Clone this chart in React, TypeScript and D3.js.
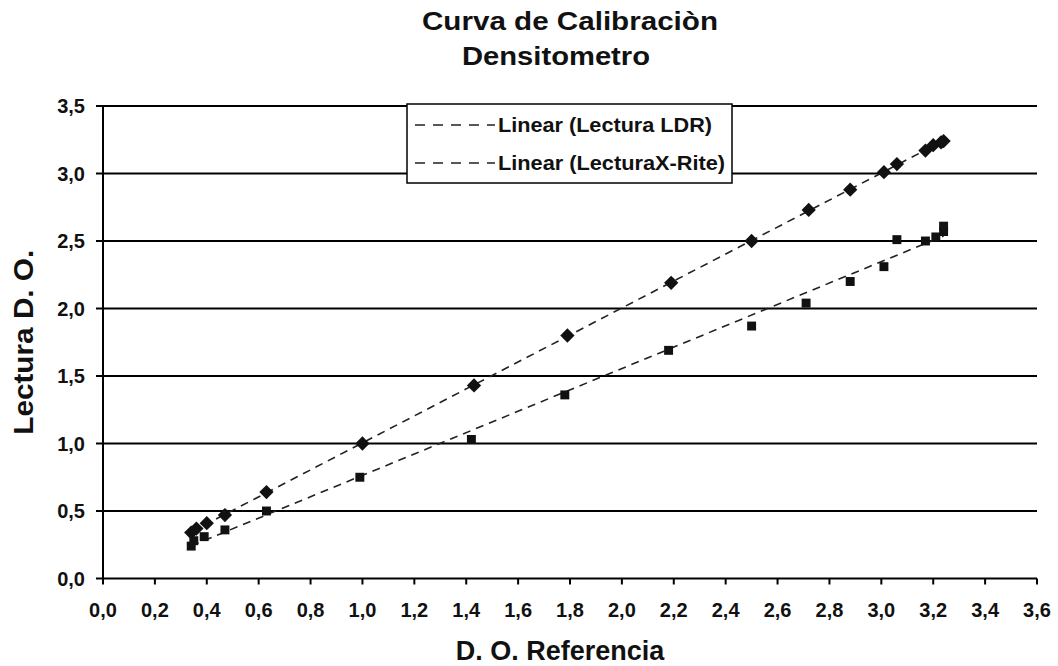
import React from "react";
import * as d3 from "d3";

const refLDR = [0.34, 0.36, 0.40, 0.47, 0.63, 1.00, 1.43, 1.79, 2.19, 2.50, 2.72, 2.88, 3.01, 3.06, 3.17, 3.20, 3.23, 3.24];
const lecturaLDR = [0.34, 0.37, 0.41, 0.47, 0.64, 1.00, 1.43, 1.80, 2.19, 2.50, 2.73, 2.88, 3.01, 3.07, 3.17, 3.21, 3.23, 3.24];
const refXRite = [0.34, 0.35, 0.39, 0.47, 0.63, 0.99, 1.42, 1.78, 2.18, 2.50, 2.71, 2.88, 3.01, 3.06, 3.17, 3.21, 3.24, 3.24];
const lecturaXRite = [0.24, 0.28, 0.31, 0.36, 0.50, 0.75, 1.03, 1.36, 1.69, 1.87, 2.04, 2.20, 2.31, 2.51, 2.50, 2.53, 2.57, 2.61];

const xTicks = [0, 0.2, 0.4, 0.6, 0.8, 1.0, 1.2, 1.4, 1.6, 1.8, 2.0, 2.2, 2.4, 2.6, 2.8, 3.0, 3.2, 3.4, 3.6];
const yTicks = [0, 0.5, 1.0, 1.5, 2.0, 2.5, 3.0, 3.5];
const legendLabels = ["Linear (Lectura LDR)", "Linear (LecturaX-Rite)"];
const titleLines = ["Curva de Calibraciòn", "Densitometro"];
const xTitle = "D. O. Referencia";
const yTitle = "Lectura D. O.";

const FONT = "'Liberation Sans', Arial, Helvetica, sans-serif";

function fit(xs: number[], ys: number[]) {
  const mx = d3.mean(xs)!;
  const my = d3.mean(ys)!;
  let num = 0, den = 0;
  xs.forEach((x, i) => {
    num += (x - mx) * (ys[i] - my);
    den += (x - mx) * (x - mx);
  });
  const m = num / den;
  return { m, b: my - m * mx };
}

const fmt = (v: number) => v.toFixed(1).replace(".", ",");

export default function App() {
  const W = 1058, H = 666;
  const x = d3.scaleLinear().domain([0, 3.6]).range([103, 1037]);
  const y = d3.scaleLinear().domain([0, 3.5]).range([578.5, 106]);

  const series = [
    { xs: refLDR, ys: lecturaLDR, shape: "diamond" },
    { xs: refXRite, ys: lecturaXRite, shape: "square" },
  ];

  const line = d3.line<[number, number]>().x(d => x(d[0])).y(d => y(d[1]));
  const diamond = d3.symbol().type(d3.symbolDiamond2).size(130)();
  const square = d3.symbol().type(d3.symbolSquare).size(80)();

  return (
    <svg width={W} height={H} style={{ position: "absolute", left: 0, top: 0, background: "#fff" }} fontFamily={FONT}>
      <rect x={0} y={0} width={W} height={H} fill="#fff" />
      {yTicks.map(t => (
        <line key={"g" + t} x1={x(0)} x2={x(3.6)} y1={y(t)} y2={y(t)} stroke="#000" strokeWidth={2} />
      ))}
      <line x1={x(0)} x2={x(0)} y1={y(3.5)} y2={y(0)} stroke="#000" strokeWidth={2} />
      {yTicks.map(t => (
        <g key={"yt" + t}>
          <line x1={x(0) - 7} x2={x(0)} y1={y(t)} y2={y(t)} stroke="#000" strokeWidth={2} />
          <text x={85} y={y(t) + 7} textAnchor="end" fontSize={20} fontWeight="bold" fill="#111">{fmt(t)}</text>
        </g>
      ))}
      {xTicks.map(t => (
        <g key={"xt" + t}>
          <line x1={x(t)} x2={x(t)} y1={y(0)} y2={y(0) + 6} stroke="#000" strokeWidth={2} />
          <text x={x(t)} y={617} textAnchor="middle" fontSize={20} fontWeight="bold" fill="#111">{fmt(t)}</text>
        </g>
      ))}
      {series.map((s, i) => {
        const { m, b } = fit(s.xs, s.ys);
        const x0 = d3.min(s.xs)!, x1 = d3.max(s.xs)!;
        return (
          <path key={"tl" + i} d={line([[x0, m * x0 + b], [x1, m * x1 + b]])!} fill="none" stroke="#222" strokeWidth={1.6} strokeDasharray="8,6" />
        );
      })}
      {series.map((s, i) =>
        s.xs.map((xv, j) => (
          <path key={"m" + i + "-" + j} d={s.shape === "diamond" ? diamond : square} transform={`translate(${x(xv)},${y(s.ys[j])})`} fill="#111" />
        ))
      )}
      <rect x={407} y={104} width={325} height={79} fill="#fff" stroke="#000" strokeWidth={1.5} />
      {legendLabels.map((l, i) => {
        const ly = 125 + i * 38;
        return (
          <g key={"lg" + i}>
            <line x1={415} x2={495} y1={ly} y2={ly} stroke="#222" strokeWidth={1.6} strokeDasharray="10,8" />
            <text x={498} y={ly + 7} fontSize={20} fontWeight="bold" fill="#111" textLength={i === 0 ? 214 : 227} lengthAdjust="spacingAndGlyphs">{l}</text>
          </g>
        );
      })}
      <text x={422} y={30} fontSize={25} fontWeight="bold" fill="#111" textLength={296} lengthAdjust="spacingAndGlyphs">{titleLines[0]}</text>
      <text x={462} y={65} fontSize={25} fontWeight="bold" fill="#111" textLength={188} lengthAdjust="spacingAndGlyphs">{titleLines[1]}</text>
      <text x={560} y={660} textAnchor="middle" fontSize={27} fontWeight="bold" fill="#111">{xTitle}</text>
      <text transform={`translate(33,${(y(0) + y(3.5)) / 2}) rotate(-90)`} textAnchor="middle" fontSize={28} fontWeight="bold" fill="#111" textLength={185} lengthAdjust="spacingAndGlyphs">{yTitle}</text>
    </svg>
  );
}
